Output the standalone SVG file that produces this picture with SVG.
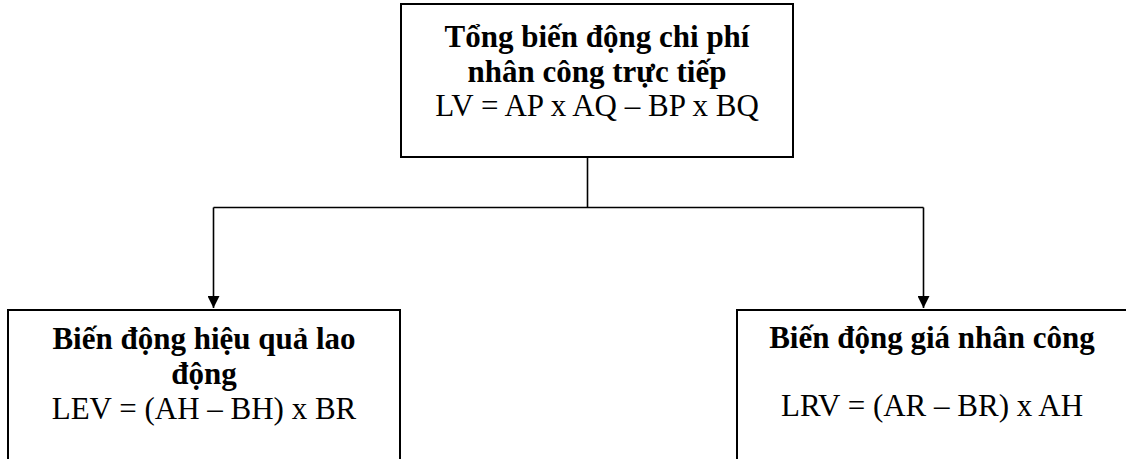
<svg xmlns="http://www.w3.org/2000/svg" width="1126" height="459" viewBox="0 0 1126 459">
  <defs>
    <style>
      .box { fill: #ffffff; stroke: #000000; stroke-width: 2; }
      .wire { fill: none; stroke: #000000; stroke-width: 1.6; }
      .t { font-family: "Liberation Serif", "Times New Roman", serif; font-size: 31px; fill: #000000; text-anchor: middle; }
      .b { font-weight: bold; }
    </style>
    <marker id="arrow" viewBox="0 0 12 12" refX="12" refY="6" markerWidth="12" markerHeight="12" markerUnits="userSpaceOnUse" orient="auto">
      <path d="M0,0 L12,6 L0,12 Z" fill="#000000"/>
    </marker>
  </defs>
  <rect width="1126" height="459" fill="#ffffff"/>

  <!-- connectors -->
  <g id="connectors">
    <line class="wire" x1="587.5" y1="157" x2="587.5" y2="207.5"/>
    <line class="wire" x1="213.5" y1="207.5" x2="923.5" y2="207.5"/>
    <line class="wire" x1="213.5" y1="207.5" x2="213.5" y2="308" marker-end="url(#arrow)"/>
    <line class="wire" x1="923.5" y1="207.5" x2="923.5" y2="308" marker-end="url(#arrow)"/>
  </g>

  <!-- total labour cost variance -->
  <g id="node-total">
    <rect class="box" x="401" y="4" width="392" height="153"/>
    <text class="t b" x="597" y="47">Tổng biến động chi phí</text>
    <text class="t b" x="597" y="81.5">nhân công trực tiếp</text>
    <text class="t" x="597" y="116">LV = AP x AQ – BP x BQ</text>
  </g>

  <!-- labour efficiency variance -->
  <g id="node-efficiency">
    <rect class="box" x="8" y="310" width="392" height="160"/>
    <text class="t b" x="204" y="349">Biến động hiệu quả lao</text>
    <text class="t b" x="204" y="384">động</text>
    <text class="t" x="204" y="419">LEV = (AH – BH) x BR</text>
  </g>

  <!-- labour rate variance -->
  <g id="node-rate">
    <rect class="box" x="737" y="310" width="392" height="160"/>
    <text class="t b" x="932" y="348">Biến động giá nhân công</text>
    <text class="t" x="932" y="416">LRV = (AR – BR) x AH</text>
  </g>
</svg>
